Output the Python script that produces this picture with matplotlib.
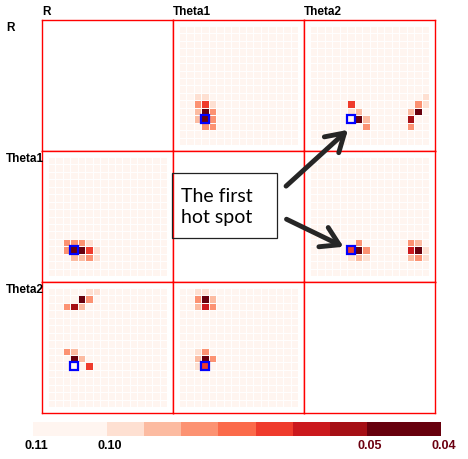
import numpy as np
import matplotlib.pyplot as plt
from matplotlib.colors import ListedColormap, BoundaryNorm
from matplotlib.patches import Rectangle, FancyArrowPatch

W, H = 468, 459
names = ["R", "Theta1", "Theta2"]
n_cells = 16
bg_value = 0.105

# colour classes (value bounds) and the 9-class Reds palette, light -> dark
bounds = [0.04, 0.05, 0.0571, 0.0643, 0.0714, 0.0786, 0.0857, 0.0929, 0.10, 0.11]
reds = ["#fff5f0", "#fee0d2", "#fcbba1", "#fc9272", "#fb6a4a",
        "#ef3b2c", "#cb181d", "#a50f15", "#67000d"]
cbar_labels = ["0.11", "0.10", "0.05", "0.04"]
cbar_label_at = [0.11, 0.10, 0.05, 0.04]

# hot cells per off-diagonal panel: (row, col, value)
hot = {
    (0, 1): [(9, 2, .096), (9, 3, .096), (10, 2, .082), (10, 3, .068), (10, 4, .096),
             (11, 2, .089), (11, 3, .045), (11, 4, .082), (12, 2, .089), (12, 3, .045),
             (12, 4, .082), (13, 3, .082), (13, 4, .082)],
    (0, 2): [(9, 15, .096), (10, 5, .068), (10, 14, .082), (10, 15, .096), (11, 5, .096),
             (11, 6, .089), (11, 13, .089), (11, 14, .045), (12, 6, .045), (12, 7, .089),
             (12, 13, .054), (13, 7, .082), (13, 13, .082)],
    (1, 0): [(11, 2, .082), (11, 3, .082), (11, 4, .082), (11, 5, .096), (12, 2, .082),
             (12, 3, .045), (12, 4, .045), (12, 5, .068), (12, 6, .096), (13, 3, .089),
             (13, 4, .089), (13, 5, .082), (13, 6, .096)],
    (1, 2): [(11, 6, .082), (11, 13, .082), (11, 14, .089), (12, 5, .068), (12, 6, .045),
             (12, 7, .082), (12, 13, .061), (12, 14, .045), (12, 15, .096), (13, 5, .096),
             (13, 6, .089), (13, 7, .096), (13, 13, .089), (13, 14, .082), (13, 15, .096)],
    (2, 0): [(0, 5, .096), (0, 6, .096), (1, 4, .045), (1, 5, .082), (2, 2, .082),
             (2, 3, .054), (2, 4, .089), (8, 2, .082), (8, 3, .089), (9, 3, .045),
             (9, 4, .089), (10, 5, .068)],
    (2, 1): [(0, 2, .096), (0, 3, .096), (1, 2, .082), (1, 3, .045), (1, 4, .089),
             (2, 2, .089), (2, 3, .061), (2, 4, .082), (8, 2, .096), (8, 3, .082),
             (9, 2, .089), (9, 3, .045), (9, 4, .082), (10, 2, .096), (10, 3, .068)],
}
# first hot spot (blue box) per panel: (row, col)
marked = {(0, 1): (12, 3), (0, 2): (12, 5), (1, 0): (12, 3),
          (1, 2): (12, 5), (2, 0): (10, 3), (2, 1): (10, 3)}

cmap = ListedColormap(reds[::-1])
norm = BoundaryNorm(bounds, cmap.N)

plt.rcParams['font.family'] = ['Liberation Sans', 'DejaVu Sans']
fig = plt.figure(figsize=(W / 100, H / 100), dpi=100)


def fx(px):
    return px / W


def fy(py):
    return 1 - py / H


x0, y0, cell = 42, 20, 131
edges = np.arange(n_cells + 1)
for i in range(3):
    for j in range(3):
        ax = fig.add_axes([fx(x0 + cell * j), fy(y0 + cell * (i + 1)),
                           cell / W, cell / H])
        ax.set_xlim(-0.8, n_cells + 0.8)
        ax.set_ylim(n_cells + 0.8, -0.8)
        ax.set_xticks([])
        ax.set_yticks([])
        for s in ax.spines.values():
            s.set_color("red")
            s.set_linewidth(1.0)
        if i == j:
            continue
        z = np.full((n_cells, n_cells), bg_value)
        for r, c, v in hot[(i, j)]:
            z[r, c] = v
        ax.pcolormesh(edges, edges, z, cmap=cmap, norm=norm, edgecolors="none")
        # white gaps between the cells
        ax.vlines(edges, 0, n_cells, color="white", linewidth=0.7)
        ax.hlines(edges, 0, n_cells, color="white", linewidth=0.7)
        r, c = marked[(i, j)]
        ax.add_patch(Rectangle((c - 0.08, r - 0.08), 1.16, 1.16, fill=False,
                               edgecolor="#0000ff", linewidth=1.6, zorder=5))

# column and row headers
for j, name in enumerate(names):
    fig.text(fx(x0 + cell * j), fy(15), name, fontsize=8.5, fontweight="bold",
             ha="left", va="baseline")
for i, name in enumerate(names):
    fig.text(fx(6), fy(y0 + cell * i + 2), name, fontsize=8.5, fontweight="bold",
             ha="left", va="top")

# colour key
widths = [2, 1, 1, 1, 1, 1, 1, 1, 2]
cax = fig.add_axes([fx(33), fy(436), 411 / W, 14 / H])
lefts = np.concatenate([[0], np.cumsum(widths)[:-1]])
desc = bounds[::-1]
mids = [(desc[k] + desc[k + 1]) / 2 for k in range(len(widths))]
cax.bar(lefts, 1, width=widths, align="edge", color=cmap(norm(mids)), linewidth=0)
cax.set_xlim(0, sum(widths))
cax.set_ylim(0, 1)
cax.set_yticks([])
for s in cax.spines.values():
    s.set_visible(False)
edge_pos = np.concatenate([[0], np.cumsum(widths)])
tick_pos = [edge_pos[desc.index(v)] + 0.08 for v in cbar_label_at]
cax.set_xticks(tick_pos)
cax.set_xticklabels(cbar_labels, fontsize=9, fontweight="bold")
cax.tick_params(axis="x", length=0, pad=3)
for lab, v in zip(cax.get_xticklabels(), cbar_label_at):
    lab.set_color("black" if v > 0.06 else "#6b0010")

# annotation box and arrows
fig.patches.append(Rectangle((fx(172), fy(238)), 105 / W, 65 / H, fill=False,
                             edgecolor="#222222", linewidth=0.9,
                             transform=fig.transFigure, figure=fig))
fig.text(fx(181), fy(207), "The first\nhot spot", fontsize=14, family="Lato",
         ha="left", va="center", linespacing=1.3)
for (xa, ya), (xb, yb) in [((284, 188), (350, 128)), ((284, 218), (346, 248))]:
    fig.patches.append(FancyArrowPatch((fx(xa), fy(ya)), (fx(xb), fy(yb)),
                                       arrowstyle="->,head_length=0.9,head_width=0.55",
                                       mutation_scale=14, linewidth=3.5,
                                       color="#262626", transform=fig.transFigure,
                                       figure=fig))

fig.savefig("out.png", dpi=100)
